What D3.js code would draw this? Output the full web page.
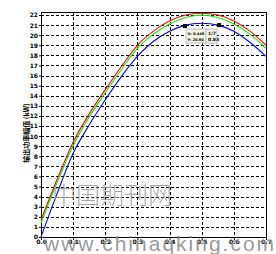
<!DOCTYPE html>
<html>
<head>
<meta charset="utf-8">
<script src="https://cdn.jsdelivr.net/npm/d3@7"></script>
<style>
	body { margin: 0; background: #fff; }
	svg { display: block; }
	.grid line { stroke: #000; stroke-dasharray: 3,2; stroke-width: 1; }
	.tick text { font-family: "DejaVu Sans", sans-serif; font-size: 6px; font-weight: bold; }
</style>
</head>
<body>
<svg id="chart"></svg>
<script>
// x positions of the samples
var xs = [0, 0.05, 0.1, 0.15, 0.2, 0.25, 0.3, 0.35, 0.4, 0.45, 0.5, 0.55, 0.6, 0.65, 0.7];

// three curves
var redVals   = [1.7, 5.7, 9.4, 12.2, 14.6, 16.9, 19.0, 20.4, 21.4, 22.0, 22.17, 22.0, 21.4, 20.4, 19.0];
var greenVals = [1.4, 5.4, 9.05, 11.9, 14.3, 16.6, 18.7, 20.1, 21.1, 21.75, 21.97, 21.75, 21.1, 20.1, 18.7];
var blueVals  = [0.0, 4.3, 8.3, 11.1, 13.6, 15.9, 17.9, 19.4, 20.4, 21.0, 21.18, 21.0, 20.4, 19.3, 17.9];

var xTicks = [0, 0.1, 0.2, 0.3, 0.4, 0.5, 0.6, 0.7];
var yTicks = d3.range(0, 23);

// data tips on the blue curve
var tips = [
	{x: 0.448, y: 20.9, lx: "X: 0.448", ly: "Y: 20.90"},
	{x: 0.554, y: 21.0, lx: "1/7", ly: "0.83"}
];

var width = 276,
	height = 254,
	pLeft = 41, pRight = 266, pTop = 15, pBottom = 237;

var svg = d3.select("#chart")
	.attr("width", width)
	.attr("height", height);

var x = d3.scaleLinear().domain([0, 0.7]).range([pLeft, pRight]);
var y = d3.scaleLinear().domain([0, 22]).range([pBottom, pTop]);

// Grid
var grid = svg.append("g").classed("grid", true);
grid.selectAll(".h")
	.data(yTicks.slice(1))
	.enter()
		.append("line")
			.attr("x1", pLeft).attr("x2", pRight)
			.attr("y1", function(d){ return Math.round(y(d)) + 0.5; })
			.attr("y2", function(d){ return Math.round(y(d)) + 0.5; });
grid.selectAll(".v")
	.data(xTicks.slice(1, -1))
	.enter()
		.append("line")
			.attr("y1", pTop - 3).attr("y2", pBottom)
			.attr("x1", function(d){ return Math.round(x(d)) + 0.5; })
			.attr("x2", function(d){ return Math.round(x(d)) + 0.5; });

// Axes
svg.append("g")
	.attr("transform", "translate(" + pLeft + ",0)")
	.call(d3.axisLeft(y).tickValues(yTicks).tickSize(2).tickPadding(1).tickFormat(d3.format("d")))
	.call(function(g){ g.select(".domain").remove(); });

svg.append("g")
	.attr("transform", "translate(0," + (pBottom + 1) + ")")
	.call(d3.axisBottom(x).tickValues(xTicks).tickSize(2).tickPadding(0).tickFormat(d3.format(".1f")))
	.call(function(g){ g.select(".domain").remove(); });

// Frame
svg.append("rect")
	.attr("x", pLeft + 0.5).attr("y", pTop - 3 + 0.5)
	.attr("width", pRight - pLeft).attr("height", pBottom - pTop + 3)
	.attr("fill", "none").attr("stroke", "#000");

// Curves
var line = d3.line()
	.x(function(d){ return x(d[0]); })
	.y(function(d){ return y(d[1]); })
	.curve(d3.curveCardinal);

[["#ff0000", redVals], ["#00ee00", greenVals], ["#0000ff", blueVals]].forEach(function(s){
	svg.append("path")
		.datum(xs.map(function(v, i){ return [v, s[1][i]]; }))
		.attr("d", line)
		.attr("fill", "none")
		.attr("stroke", s[0])
		.attr("stroke-width", 1.1);
});

// Data tips
tips.forEach(function(t){
	svg.append("rect")
		.attr("x", x(t.x) - 2).attr("y", y(t.y) - 2)
		.attr("width", 4).attr("height", 4)
		.attr("fill", "#000");
});
var box = svg.append("g").attr("transform", "translate(186,29)");
box.append("rect").attr("width", 20).attr("height", 14)
	.attr("fill", "#f4f4e4").attr("stroke", "#bbb");
box.append("rect").attr("x", 20).attr("width", 11).attr("height", 14)
	.attr("fill", "#f4f4e4").attr("stroke", "#bbb");
box.selectAll("text")
	.data([[1.5, 6, tips[0].lx, 3.6], [1.5, 12, tips[0].ly, 3.6], [22, 6, tips[1].lx, 4.5], [22, 12, tips[1].ly, 4.5]])
	.enter()
		.append("text")
			.attr("x", function(d){ return d[0]; })
			.attr("y", function(d){ return d[1]; })
			.attr("font-family", "DejaVu Sans")
			.attr("font-size", function(d){ return d[3]; })
			.attr("font-weight", "bold")
			.text(function(d){ return d[2]; });

// Y label
svg.append("text")
	.attr("transform", "translate(29,133) rotate(-90)")
	.attr("text-anchor", "middle")
	.attr("font-family", "Noto Sans CJK SC")
	.attr("font-size", 7)
	.attr("font-weight", "bold")
	.text("输出功率幅值 (kW)");

// Watermark
svg.append("text")
	.attr("x", 52).attr("y", 204)
	.attr("font-family", "Noto Sans CJK SC")
	.attr("font-size", 24)
	.attr("font-weight", 300)
	.attr("fill", "#999").attr("fill-opacity", 0.85)
	.text("中国期刊网");
svg.append("text")
	.attr("x", 44).attr("y", 251)
	.attr("font-family", "Liberation Sans")
	.attr("font-size", 21)
	.attr("letter-spacing", 2)
	.attr("fill", "#8c8c8c").attr("fill-opacity", 0.9)
	.text("www.chinaqking.com");
</script>
</body>
</html>
